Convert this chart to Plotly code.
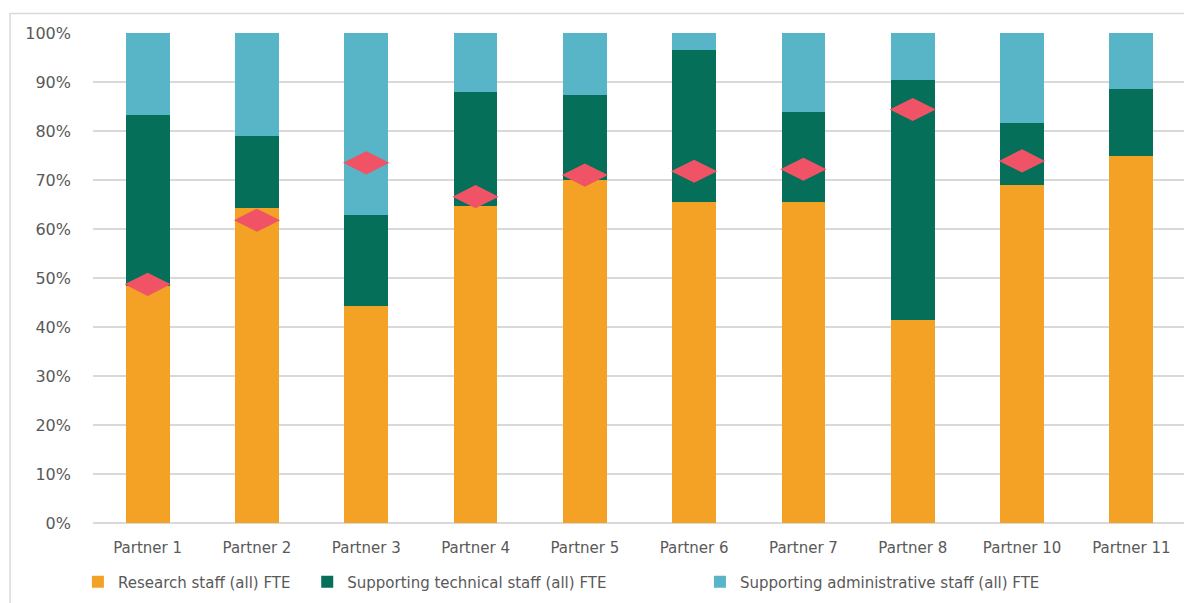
"""Staff composition (FTE shares) per partner, stacked 100% bar chart."""

import plotly.graph_objects as go

PARTNERS = [
    "Partner 1", "Partner 2", "Partner 3", "Partner 4", "Partner 5",
    "Partner 6", "Partner 7", "Partner 8", "Partner 10", "Partner 11",
]
RESEARCH = [0.484, 0.642, 0.443, 0.646, 0.700, 0.655, 0.655, 0.414, 0.690, 0.750]
TECHNICAL = [0.348, 0.148, 0.186, 0.234, 0.173, 0.311, 0.183, 0.490, 0.126, 0.136]
ADMIN = [0.168, 0.210, 0.371, 0.120, 0.127, 0.034, 0.162, 0.096, 0.184, 0.114]
MARKER_SHARE = [0.487, 0.618, 0.735, 0.666, 0.710, 0.718, 0.722, 0.844, 0.739, None]

# (name, values, colour, legend id, legend x in paper coords)
SERIES = [
    ("Research staff (all) FTE", RESEARCH, "#F4A226", "legend", -0.0138),
    ("Supporting technical staff (all) FTE", TECHNICAL, "#056F5A", "legend2", 0.196),
    ("Supporting administrative staff (all) FTE", ADMIN, "#58B5C8", "legend3", 0.5553),
]

FONT = "DejaVu Sans"
TEXT_COLOR = "#595959"
GRID_COLOR = "#D9D9D9"

fig = go.Figure()
for name, values, color, legend_id, _ in SERIES:
    fig.add_trace(
        go.Bar(
            x=PARTNERS,
            y=values,
            name=name,
            legend=legend_id,
            marker=dict(color=color, line=dict(width=0)),
        )
    )

fig.add_trace(
    go.Scatter(
        x=PARTNERS,
        y=MARKER_SHARE,
        mode="markers",
        marker=dict(symbol="diamond-wide", size=33, color="#EF5365", line=dict(width=0)),
        showlegend=False,
    )
)

# light frame around the chart area, as in the spreadsheet export
fig.add_shape(
    type="rect", xref="paper", yref="paper",
    x0=-0.0759, x1=1.03, y0=-0.25, y1=1.0398,
    line=dict(color=GRID_COLOR, width=1.5), layer="below",
)

legend_style = dict(
    orientation="h",
    y=-0.1205,
    xanchor="left",
    yanchor="middle",
    font=dict(family=FONT, size=15, color=TEXT_COLOR),
    itemwidth=30,
    bgcolor="rgba(0,0,0,0)",
)
legends = {}
for _, _, _, legend_id, legend_x in SERIES:
    legends[legend_id] = dict(legend_style, x=legend_x)

# the page body adds an 8px offset, so the figure is sized 8px smaller
fig.update_layout(
    width=1184,
    height=595,
    barmode="stack",
    bargap=0.6,
    plot_bgcolor="white",
    paper_bgcolor="white",
    font=dict(family=FONT, size=15, color=TEXT_COLOR),
    margin=dict(l=85, r=6, t=25, b=80, autoexpand=False),
    showlegend=True,
    xaxis=dict(
        range=[-0.5, len(PARTNERS) - 0.5],
        showgrid=False,
        showline=False,
        ticks="",
        ticklabelstandoff=14,
        automargin=False,
        tickfont=dict(family=FONT, size=15, color=TEXT_COLOR),
    ),
    yaxis=dict(
        range=[0, 1],
        dtick=0.1,
        tickformat=".0%",
        showgrid=True,
        gridcolor=GRID_COLOR,
        gridwidth=1.5,
        zeroline=True,
        zerolinecolor=GRID_COLOR,
        zerolinewidth=1.5,
        showline=False,
        ticks="",
        ticklabelstandoff=21,
        automargin=False,
        tickfont=dict(family=FONT, size=16, color=TEXT_COLOR),
    ),
    **legends,
)

fig.write_html("out.html")
